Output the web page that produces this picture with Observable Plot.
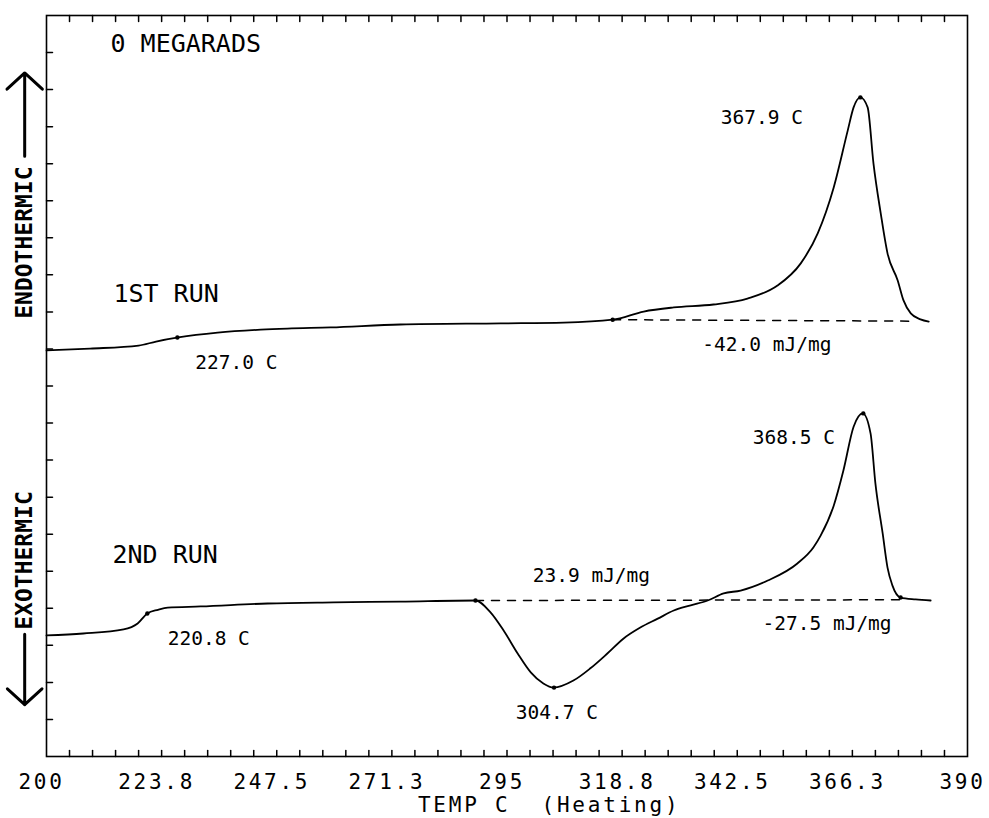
<!DOCTYPE html>
<html>
<head>
<meta charset="utf-8">
<script src="https://cdn.jsdelivr.net/npm/d3@7"></script>
<script src="https://cdn.jsdelivr.net/npm/@observablehq/plot@0.6"></script>
<style>
  html, body { margin: 0; padding: 0; background: #fff; }
</style>
</head>
<body>
<div id="chart"></div>
<script>
// ---- data ----
const run1Temp   = [200.0, 209.0, 219.0, 222.6, 227.2, 235.3, 244.2, 249.7, 258.6, 273.0, 293.7, 306.7, 316.8, 323.2, 329.4, 337.6, 344.6, 350.8, 355.6, 359.1, 362.4, 365.3, 366.5, 367.9, 369.4, 370.6, 372.1, 373.5, 375.6, 376.8, 378.3, 380.3, 382.0];
const run1Signal = [10.96, 11.01, 11.09, 11.20, 11.31, 11.44, 11.52, 11.55, 11.58, 11.66, 11.69, 11.71, 11.79, 12.01, 12.12, 12.20, 12.36, 12.71, 13.31, 14.12, 15.36, 16.90, 17.52, 17.79, 17.52, 16.01, 14.66, 13.58, 12.85, 12.31, 11.96, 11.80, 11.74];

const run2Temp   = [200.0, 207.6, 215.9, 218.8, 220.8, 223.0, 225.0, 231.8, 245.6, 259.2, 273.0, 288.5, 291.6, 294.3, 297.2, 299.9, 302.5, 304.6, 308.7, 312.2, 315.7, 319.0, 322.5, 326.1, 329.4, 332.9, 336.4, 339.7, 343.2, 348.8, 354.9, 358.2, 359.7, 362.4, 364.4, 366.5, 368.4, 370.0, 371.0, 372.5, 373.5, 374.5, 376.2, 379.3, 382.4];
const run2Signal = [3.27, 3.32, 3.43, 3.59, 3.86, 3.96, 4.02, 4.05, 4.13, 4.16, 4.18, 4.21, 3.89, 3.40, 2.78, 2.27, 1.97, 1.86, 2.05, 2.38, 2.78, 3.18, 3.48, 3.72, 3.94, 4.08, 4.21, 4.40, 4.48, 4.75, 5.21, 5.64, 5.96, 6.77, 7.72, 8.90, 9.26, 8.72, 7.37, 6.02, 5.10, 4.62, 4.29, 4.24, 4.21];

const base1Temp   = [316.8, 378.9];
const base1Signal = [11.79, 11.75];
const base2Temp   = [288.5, 376.2];
const base2Signal = [4.21, 4.23];

const markTemp   = [227.0, 316.8, 367.9, 220.8, 288.5, 304.7, 368.5, 376.2];
const markSignal = [11.31, 11.79, 17.79, 3.86, 4.21, 1.86, 9.26, 4.29];

const bigLabels       = ["0 MEGARADS", "1ST RUN", "2ND RUN"];
const bigLabelTemp    = [213.2, 213.8, 213.6];
const bigLabelSignal  = [19.24, 12.47, 5.43];

const noteLabels      = ["227.0 C", "367.9 C", "-42.0 mJ/mg", "220.8 C", "23.9 mJ/mg", "-27.5 mJ/mg", "368.5 C", "304.7 C"];
const noteTemp        = [230.7, 339.1, 335.3, 225.0, 300.3, 347.7, 345.7, 296.8];
const noteSignal      = [10.63, 17.25, 11.12, 3.18, 4.89, 3.59, 8.61, 1.19];

const xTicks      = [200, 223.75, 247.5, 271.25, 295, 318.75, 342.5, 366.25, 390];
const xTickLabels = ["200", "223.8", "247.5", "271.3", "295", "318.8", "342.5", "366.3", "390"];
const xMinor      = d3.range(1, 40).map(k => 200 + k * 4.75);
const yMinor      = d3.range(1, 20);

const sideLabels      = ["ENDOTHERMIC", "EXOTHERMIC"];
const sideLabelTemp   = [195.5, 195.5];
const sideLabelSignal = [13.87, 5.29];
const arrowTemp       = 195.5;
const arrowFrom       = [16.2, 3.3];
const arrowTo         = [18.45, 1.4];

const xTitle = "TEMP C  (Heating)";
const xTitleTemp = 303.7;
const xTitleSignal = -1.31;

// ---- build tables ----
const zip = (xs, ys) => xs.map((x, i) => ({x, y: ys[i]}));
const run1 = zip(run1Temp, run1Signal);
const run2 = zip(run2Temp, run2Signal);
const base1 = zip(base1Temp, base1Signal);
const base2 = zip(base2Temp, base2Signal);
const marks = zip(markTemp, markSignal);
const bigs = bigLabels.map((t, i) => ({t, x: bigLabelTemp[i], y: bigLabelSignal[i]}));
const notes = noteLabels.map((t, i) => ({t, x: noteTemp[i], y: noteSignal[i]}));
const sides = sideLabels.map((t, i) => ({t, x: sideLabelTemp[i], y: sideLabelSignal[i]}));
const arrows = arrowFrom.map((a, i) => ({x1: arrowTemp, y1: a, x2: arrowTemp, y2: arrowTo[i]}));

const tickShape = { draw(context, l) { context.moveTo(0, 0); context.lineTo(0, -l); } };
const FONT = "'DejaVu Sans Mono', 'Liberation Mono', monospace";

const chart = Plot.plot({
  width: 989,
  height: 818,
  marginLeft: 46,
  marginRight: 22,
  marginTop: 15,
  marginBottom: 62,
  style: { fontFamily: FONT, background: "#fff", color: "#000", overflow: "visible" },
  x: { domain: [200, 390] },
  y: { domain: [0, 20], axis: null },
  marks: [
    Plot.frame({ stroke: "#000", strokeWidth: 1.6 }),
    Plot.axisX(xTicks, {
      tickSize: 0, tickPadding: 18, fontSize: 21, dx: -5,
      tickFormat: d => xTickLabels[xTicks.indexOf(d)], label: null
    }),
    Plot.vector(xMinor, { x: d => d, y: 0, length: 6, rotate: 0, anchor: "start", shape: tickShape, stroke: "#000", strokeWidth: 1.5 }),
    Plot.vector(xMinor, { x: d => d, y: 20, length: 6, rotate: 180, anchor: "start", shape: tickShape, stroke: "#000", strokeWidth: 1.5 }),
    Plot.vector(yMinor, { x: 200, y: d => d, length: 6, rotate: 90, anchor: "start", shape: tickShape, stroke: "#000", strokeWidth: 1.5 }),
    Plot.line(base1, { x: "x", y: "y", stroke: "#000", strokeWidth: 1.5, strokeDasharray: "8,8" }),
    Plot.line(base2, { x: "x", y: "y", stroke: "#000", strokeWidth: 1.5, strokeDasharray: "8,8" }),
    Plot.line(run1, { x: "x", y: "y", stroke: "#000", strokeWidth: 1.8, curve: "monotone-x" }),
    Plot.line(run2, { x: "x", y: "y", stroke: "#000", strokeWidth: 1.8, curve: "monotone-x" }),
    Plot.dot(marks, { x: "x", y: "y", r: 2.2, fill: "#000" }),
    Plot.text(bigs, { x: "x", y: "y", text: "t", textAnchor: "start", lineAnchor: "middle", fontSize: 25, fill: "#000" }),
    Plot.text(notes, { x: "x", y: "y", text: "t", textAnchor: "start", lineAnchor: "middle", fontSize: 19.5, fill: "#000" }),
    Plot.text(sides, { x: "x", y: "y", text: "t", rotate: -90, textAnchor: "middle", lineAnchor: "middle", fontSize: 23, fontWeight: "bold", fill: "#000" }),
    Plot.arrow(arrows, { x1: "x1", y1: "y1", x2: "x2", y2: "y2", stroke: "#000", strokeWidth: 3, headLength: 12, headAngle: 95 }),
    Plot.text([xTitle], { x: xTitleTemp, y: xTitleSignal, text: d => d, textAnchor: "middle", lineAnchor: "middle", fontSize: 21, fill: "#000" })
  ]
});

// plotter-style wide letter spacing for the axis numbers and the axis title
d3.select(chart).selectAll('g[aria-label="x-axis tick label"] text').style("letter-spacing", "2.7px");
d3.select(chart).selectAll("text").filter(function () { return this.textContent === xTitle; })
  .style("letter-spacing", "2.8px").style("white-space", "pre");

document.getElementById("chart").appendChild(chart);
</script>
</body>
</html>
